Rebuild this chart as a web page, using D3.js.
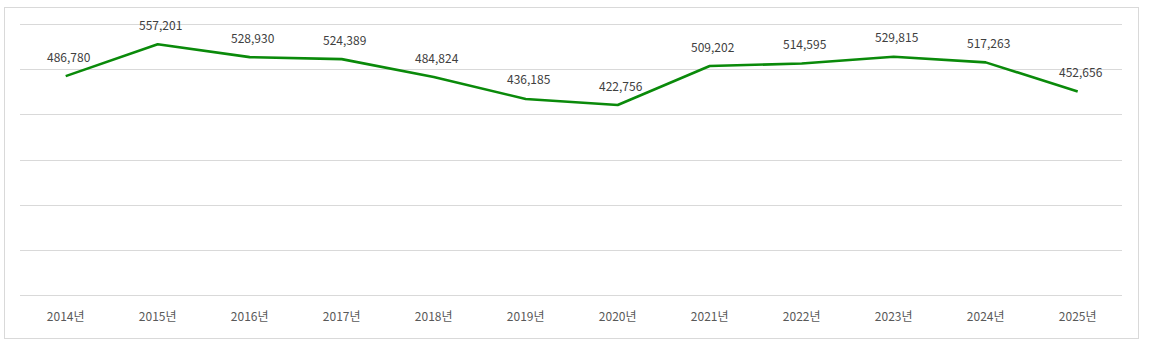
<!DOCTYPE html>
<html><head><meta charset="utf-8">
<script src="https://cdn.jsdelivr.net/npm/d3@7"></script>
<style>body{margin:0;background:#fff;}svg{display:block;}</style>
</head><body>
<svg id="c" width="1150" height="350"></svg>
<script>
const categories = ["2014년","2015년","2016년","2017년","2018년","2019년","2020년","2021년","2022년","2023년","2024년","2025년"];
const values = [486780,557201,528930,524389,484824,436185,422756,509202,514595,529815,517263,452656];
const yTicks = [0,100000,200000,300000,400000,500000,600000];

const svg = d3.select("#c");
const font = "'Noto Sans CJK KR','Malgun Gothic',sans-serif";
svg.append("rect").attr("x",4.5).attr("y",7.5).attr("width",1134).attr("height",331)
  .attr("fill","#fff").attr("stroke","#d9d9d9").attr("stroke-width",1);

const x = d3.scaleBand().domain(categories).range([19.7,1123.7]);
const y = d3.scaleLinear().domain([0,600000]).range([295,24]);

svg.append("g").selectAll("line").data(yTicks).join("line")
  .attr("x1",20).attr("x2",1122)
  .attr("y1",d=>Math.round(y(d))+0.5).attr("y2",d=>Math.round(y(d))+0.5)
  .attr("stroke","#d9d9d9").attr("stroke-width",1);

const xAxis = svg.append("g").attr("transform","translate(0,295)")
  .call(d3.axisBottom(x).tickSize(0).tickPadding(17));
xAxis.select(".domain").remove();
xAxis.selectAll("text").attr("fill","#595959").style("font-family",font).style("font-size","12px");

const cx = d => x(d) + x.bandwidth()/2;
const line = d3.line().x((d,i)=>cx(categories[i])).y(d=>y(d)+1);
svg.append("path").datum(values).attr("d",line).attr("fill","none")
  .attr("stroke","#0a8a0a").attr("stroke-width",2.6).attr("stroke-linejoin","round");

svg.append("g").selectAll("text").data(values).join("text")
  .attr("x",(d,i)=>cx(categories[i])+3).attr("y",d=>y(d)-13.5)
  .attr("text-anchor","middle").attr("fill","#404040")
  .style("font-family",font).style("font-size","12px")
  .text(d=>d3.format(",")(d));
</script>
</body></html>
